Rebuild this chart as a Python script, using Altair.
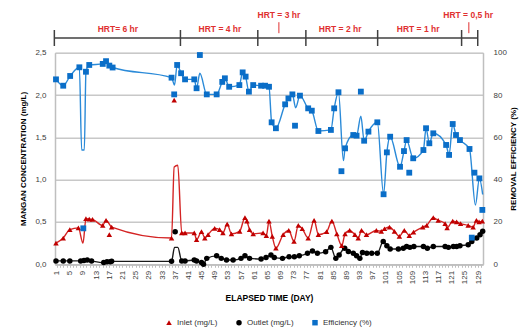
import altair as alt
import pandas as pd

# ---------------- data ----------------
# Efficiency (%) - points on the smoothed line that carry a marker
eff_days = [0.8, 3, 5.1, 7.9, 9.9, 10.9, 15, 16, 17, 18, 35.9, 37.6, 38.8, 40, 42.8, 43.5,
            46.6, 49.6, 51.3, 52.1, 53.4, 56.5, 57.5, 58.4, 59.4, 60.7, 63.1, 64.3, 65.5, 66.3,
            67.6, 70.4, 71.4, 72.6, 74.9, 77.4, 78.5, 80.5, 84.3, 85.3, 86.6, 88.6, 91.1, 92.1,
            94.4, 95.7, 98.4, 100.3, 101.3, 102.3, 105.3, 106.5, 107.3, 109.3, 112.4, 113.2,
            114.2, 115.4, 119.3, 120.2, 121.3, 122.3, 123.5, 126.4, 129.4]
eff_vals = [87.4, 84.4, 89, 93.1, 91, 94.2, 94.7, 96, 93.9, 93, 88.2, 94.2, 90.3, 87.4, 87.4, 83.2,
            80.3, 80.3, 86.2, 87.9, 83.9, 84.7, 90.7, 88.7, 81.6, 84.7, 84.4, 84.4, 83.9, 67.1,
            64.3, 75.6, 78.4, 80.3, 79.7, 73.7, 72.6, 63, 63.5, 73.7, 81.3, 54.8, 61.1, 60.8,
            58.4, 62.7, 67.1, 33.1, 52.9, 60.3, 46.1, 53.5, 58.7, 50.1, 54, 64.3,
            57.2, 61.9, 56.4, 51.7, 66.3, 61.1, 58.7, 54.5, 40.6]
# line passes here without a marker
eff_line_days = [8.6, 9.4, 36.8, 44.5, 73.6, 88.1, 93.4, 128.2, 130.4]
eff_line_vals = [54, 54, 84.7, 90.3, 74, 49, 70, 28, 33]
# markers that sit off the line
eff_extra_days = [9.1, 36.7, 44.5, 73.4, 87.5, 93.4, 108.1, 127.1, 127.9, 130.3]
eff_extra_vals = [17, 80.3, 98.9, 65.5, 44, 81.6, 43.3, 12.6, 43.3, 25.7]

# Inlet (mg/L)
in_days = [0.8, 3, 5, 7.6, 9.9, 10.9, 11.9, 15, 16, 17.7, 35.9, 39, 40, 42.8, 43.5, 45, 46, 47,
           49, 50.5, 51.5, 52.8, 54.1, 56.6, 58.2, 58.8, 59.6, 60.7, 63.7, 64.7, 65.5, 66.5,
           67.6, 69.8, 71.5, 73.1, 74.4, 75.6, 77.4, 79.2, 80.5, 83, 84.6, 86.1, 87.6, 88.6,
           90, 91.6, 92.6, 93.6, 95.1, 98.1, 99.6, 100.6, 102.1, 103.6, 105.1, 106.6, 108.1,
           109.4, 112.2, 113.4, 115.4, 116.9, 119, 119.6, 121.3, 122.5, 123.7, 126, 127.5,
           128.5, 129.3, 130.3]
in_vals = [0.25, 0.31, 0.41, 0.43, 0.54, 0.535, 0.53, 0.46, 0.52, 0.44, 0.31, 0.37, 0.37, 0.37,
           0.29, 0.385, 0.31, 0.35, 0.425, 0.41, 0.37, 0.476, 0.36, 0.39, 0.55, 0.51, 0.41, 0.36,
           0.37, 0.34, 0.51, 0.33, 0.19, 0.35, 0.40, 0.27, 0.46, 0.42, 0.31, 0.52, 0.35, 0.385,
           0.51, 0.36, 0.22, 0.36, 0.40, 0.35, 0.31, 0.40, 0.35, 0.40, 0.39, 0.42, 0.44, 0.39,
           0.33, 0.40, 0.34, 0.38, 0.44, 0.46, 0.55, 0.52, 0.48, 0.43, 0.51, 0.50, 0.48, 0.46,
           0.44, 0.52, 0.50, 0.51]
in_line_days = [9, 36.7, 37.8]
in_line_vals = [0.25, 1.15, 1.17]
in_extra_days = [17, 36.7]
in_extra_vals = [0.35, 1.94]

# Outlet (mg/L)
out_days = [0.8, 3, 5, 8.3, 9.3, 10.3, 11.6, 15.3, 16.3, 17.3, 17.7, 35.9, 39, 40, 42.8, 43.5,
            45, 45.6, 46.6, 49.6, 51, 52.6, 54.6, 57, 58.2, 59.6, 63.1, 64.6, 66.1, 67.1, 69.6,
            71.6, 73.2, 74.7, 77.2, 78.7, 80.2, 82.7, 84.3, 85.8, 86.8, 88.5, 89.6, 91.1, 92.1,
            93.1, 93.9, 95.2, 96.7, 98.4, 100.2, 101.3, 102.3, 104.8, 106.3, 107.3, 108.3,
            109.5, 112.4, 113.6, 115.4, 119, 120, 121.5, 122.5, 123.5, 126, 127.1, 128.6,
            129.6, 130.4]
out_vals = [0.04, 0.04, 0.04, 0.04, 0.045, 0.05, 0.04, 0.02, 0.03, 0.03, 0.035, 0.035, 0.04,
            0.04, 0.05, 0.04, 0.02, 0.0, 0.07, 0.10, 0.07, 0.05, 0.05, 0.07, 0.10, 0.07, 0.063,
            0.079, 0.11, 0.079, 0.07, 0.09, 0.09, 0.10, 0.13, 0.157, 0.13, 0.149, 0.20, 0.07,
            0.11, 0.19, 0.15, 0.13, 0.10, 0.07, 0.14, 0.13, 0.13, 0.13, 0.27, 0.22, 0.18, 0.18,
            0.19, 0.21, 0.20, 0.21, 0.21, 0.19, 0.21, 0.21, 0.20, 0.21, 0.21, 0.22, 0.23, 0.27,
            0.31, 0.35, 0.39]
out_line_days = [36.8, 37.8]
out_line_vals = [0.2, 0.2]
out_extra_days = [37]
out_extra_vals = [0.385]

# HRT periods drawn above the plot
hrt_bounds = [0.3, 38.6, 62.1, 76.7, 98.5, 124, 128.9]
hrt_low_labels = ["HRT= 6 hr", "HRT = 4 hr", "HRT = 2 hr", "HRT = 1 hr"]
hrt_low_days = [19.6, 50.6, 87.1, 110.8]
hrt_high_labels = ["HRT = 3 hr", "HRT = 0,5 hr"]
hrt_high_days = [68.5, 126.0]
hrt_pole_days = [68.5, 126.2]

series_names = ["Inlet (mg/L)", "Outlet (mg/L)", "Efficiency (%)"]
series_colors = ["#C00000", "#000000", "#0A6EC8"]
series_shapes = ["triangle-up", "circle", "square"]

FONT = "Liberation Sans"


def line_frame(days, vals, ldays, lvals):
    df = pd.DataFrame({"day": list(days) + list(ldays), "value": list(vals) + list(lvals)})
    return df.sort_values("day").reset_index(drop=True)


def mark_frame(days, vals, edays, evals, name):
    return pd.DataFrame({"day": list(days) + list(edays), "value": list(vals) + list(evals),
                         "series": name})


X = alt.X("day:Q", scale=alt.Scale(domain=[0.5, 130.5], nice=False, zero=False),
          axis=alt.Axis(values=list(range(1, 131)),
                        labelExpr="(datum.value - 1) % 4 == 0 ? datum.label : ''",
                        labelAngle=270, labelFontSize=8, labelColor="#404040",
                        labelOverlap=False, labelFlush=False, labelPadding=3,
                        tickSize=3, tickColor="#BFBFBF", domainColor="#BFBFBF",
                        domainWidth=1.5, grid=False,
                        title="ELAPSED TIME (DAY)", titleFontSize=8.5,
                        titleFontWeight="bold", titleColor="#000000", titlePadding=10))

legend = alt.Legend(title=None, orient="none", legendX=110, legendY=266,
                    direction="horizontal", symbolSize=30, labelFontSize=8,
                    labelColor="#333333", columnPadding=17, symbolStrokeWidth=0,
                    labelFont=FONT)
color = alt.Color("series:N", scale=alt.Scale(domain=series_names, range=series_colors),
                  legend=legend)
shape = alt.Shape("series:N", scale=alt.Scale(domain=series_names, range=series_shapes),
                  legend=legend)

Yc = alt.Y("value:Q", scale=alt.Scale(domain=[0, 2.5], nice=False),
           axis=alt.Axis(values=[0, 0.5, 1, 1.5, 2, 2.5],
                         labelExpr="replace(datum.label, '.', ',')",
                         labelFontSize=8, labelColor="#404040", labelPadding=9,
                         tickSize=0, domainColor="#BFBFBF", domainWidth=1.5,
                         grid=True, gridColor="#C8C8C8", gridWidth=1.5,
                         title="MANGAN CONCENTRATION (mg/L)", titleFontSize=8,
                         titleFontWeight="bold", titleColor="#000000", titlePadding=7))
Ye = alt.Y("value:Q", scale=alt.Scale(domain=[0, 100], nice=False),
           axis=alt.Axis(orient="right", values=[0, 20, 40, 60, 80, 100],
                         labelFontSize=8, labelColor="#404040", labelPadding=10,
                         tickSize=0, domainColor="#BFBFBF", domainWidth=1.5, grid=False,
                         title="REMOVAL EFFICIENCY (%)", titleAngle=270, titleFontSize=8,
                         titleFontWeight="bold", titleColor="#000000", titlePadding=11))

SMOOTH = "monotone"

in_line = alt.Chart(line_frame(in_days, in_vals, in_line_days, in_line_vals)).mark_line(
    interpolate=SMOOTH, color="#D42424", strokeWidth=1.4).encode(x=X, y=Yc)
out_line = alt.Chart(line_frame(out_days, out_vals, out_line_days, out_line_vals)).mark_line(
    interpolate=SMOOTH, color="#1A1A1A", strokeWidth=1.4).encode(x=X, y=Yc)
in_pts = alt.Chart(mark_frame(in_days, in_vals, in_extra_days, in_extra_vals,
                              series_names[0])).mark_point(
    filled=True, size=30, opacity=1).encode(x=X, y=Yc, color=color, shape=shape)
out_pts = alt.Chart(mark_frame(out_days, out_vals, out_extra_days, out_extra_vals,
                               series_names[1])).mark_point(
    filled=True, size=30, opacity=1).encode(x=X, y=Yc, color=color, shape=shape)
conc = alt.layer(out_line, in_line, out_pts, in_pts)

eff_line = alt.Chart(line_frame(eff_days, eff_vals, eff_line_days, eff_line_vals)).mark_line(
    interpolate=SMOOTH, color="#2A8AD8", strokeWidth=1.4).encode(x=X, y=Ye)
eff_pts = alt.Chart(mark_frame(eff_days, eff_vals, eff_extra_days, eff_extra_vals,
                               series_names[2])).mark_point(
    filled=True, size=34, opacity=1).encode(x=X, y=Ye, color=color, shape=shape)
eff = alt.layer(eff_line, eff_pts)

# HRT annotation above the plot
bounds_df = pd.DataFrame({"day": hrt_bounds})
span_df = pd.DataFrame({"day": [hrt_bounds[0]], "day2": [hrt_bounds[-1]]})
low_df = pd.DataFrame({"day": hrt_low_days, "label": hrt_low_labels})
high_df = pd.DataFrame({"day": hrt_high_days, "label": hrt_high_labels})
pole_df = pd.DataFrame({"day": hrt_pole_days})

span = alt.Chart(span_df).mark_rule(color="#404040", strokeWidth=1.5).encode(
    x=X, x2="day2:Q", y=alt.value(-14.7))
ticks = alt.Chart(bounds_df).mark_rule(color="#404040", strokeWidth=1.5).encode(
    x=X, y=alt.value(-22.7), y2=alt.value(-6.7))
poles = alt.Chart(pole_df).mark_rule(color="#E03030", strokeWidth=1).encode(
    x=X, y=alt.value(-30.5), y2=alt.value(-19.5))
low_txt = alt.Chart(low_df).mark_text(color="#E03030", fontSize=8.5, fontWeight="bold",
                                      font=FONT, baseline="middle").encode(
    x=X, y=alt.value(-23.5), text="label:N")
high_txt = alt.Chart(high_df).mark_text(color="#E03030", fontSize=8.5, fontWeight="bold",
                                        font=FONT, baseline="middle").encode(
    x=X, y=alt.value(-37.2), text="label:N")
annot = alt.layer(span, ticks, poles, low_txt, high_txt)

chart = alt.layer(conc, eff, annot).resolve_scale(y="independent").properties(
    width=428, height=211.6,
    padding={"left": 47, "top": 44.7, "right": 38, "bottom": 68},
    autosize=alt.AutoSizeParams(type="none"),
    background="white",
).configure_view(stroke=None).configure(font=FONT)

chart.save("out.html", embed_options={"renderer": "svg", "actions": False})
